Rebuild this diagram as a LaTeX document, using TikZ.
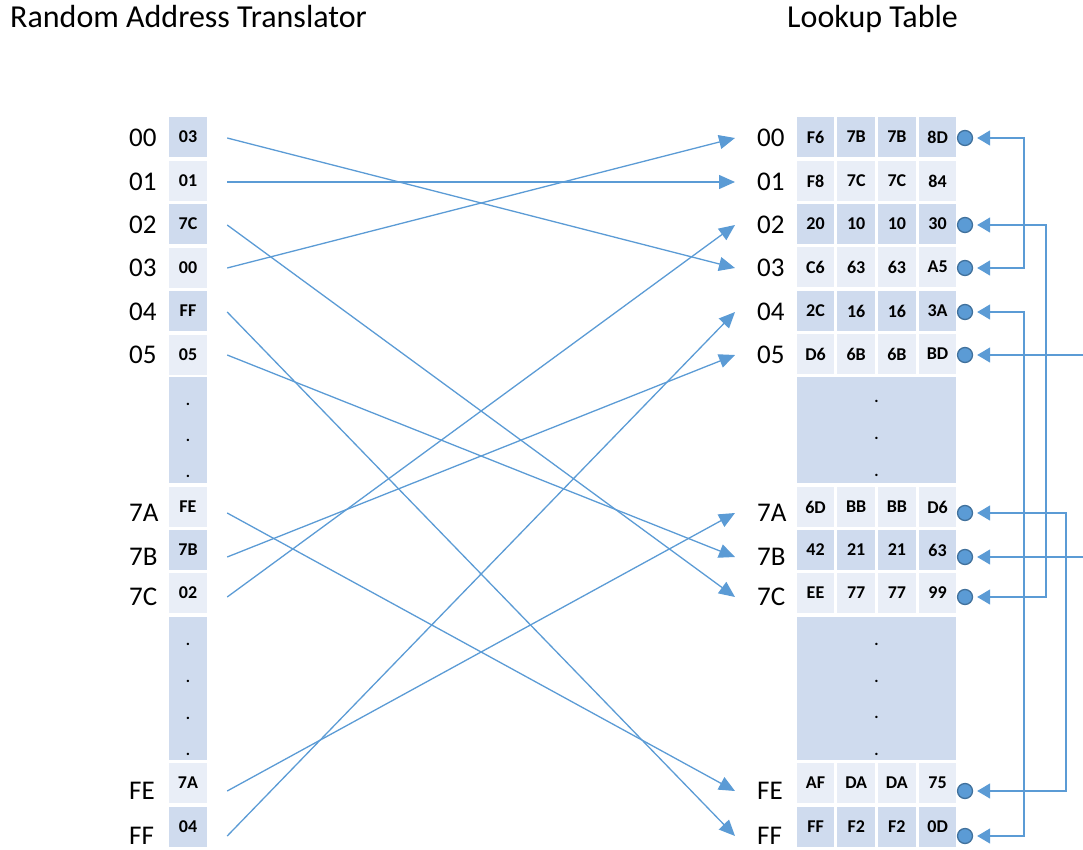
\documentclass[tikz,border=0pt]{standalone}
\usepackage{fontspec}
\setmainfont{Carlito}
\usetikzlibrary{arrows.meta,calc}

\definecolor{cellD}{HTML}{CFDBEE}
\definecolor{cellL}{HTML}{E9EEF7}
\definecolor{lineblue}{HTML}{5B9BD5}
\definecolor{dotrim}{HTML}{41719C}

\tikzset{
  title/.style={font=\fontsize{32}{32}\selectfont, anchor=base west, inner sep=0pt},
  rowlabel/.style={font=\fontsize{27}{27}\selectfont, anchor=west, inner sep=0pt},
  cell/.style={font=\bfseries\fontsize{18}{18}\selectfont, minimum width=38pt,
    minimum height=40pt, inner sep=0pt},
  filler/.style={fill=cellD, inner sep=0pt},
  dotmark/.style={font=\bfseries\fontsize{16}{16}\selectfont, anchor=base, inner sep=0pt},
  port/.style={circle, fill=lineblue, draw=dotrim, line width=1.3pt,
    minimum size=15pt, inner sep=0pt},
  link/.style={draw=lineblue, line width=1.3pt, >={Triangle[length=16pt,width=14pt]}, ->},
  back/.style={draw=lineblue, line width=1.5pt, >={Triangle[length=13pt,width=15pt]},
    shorten <=4pt, shorten >=4pt}
}

\begin{document}
\begin{tikzpicture}[x=1pt, y=-1pt]
  \useasboundingbox (0,0) rectangle (1083,850);

  \node[title] (ttlA) at (10,28) {Random Address Translator};
  \node[title] (ttlB) at (787,28) {Lookup Table};

  % translator column
  \foreach \n/\yc/\yl/\v/\sh in {00/137/138/03/cellD, 01/181/182/01/cellL,
      02/224/225/7C/cellD, 03/268/268/00/cellL, 04/311/312/FF/cellD,
      05/355/355/05/cellL, 7A/507/513/FE/cellL, 7B/550/557/7B/cellD,
      7C/593/597/02/cellL, FE/783/791/7A/cellL, FF/827/836/04/cellD}{
    \node[rowlabel] (ln\n) at (129,\yl) {\n};
    \node[cell, fill=\sh] (l\n) at (188,\yc) {\v};
  }
  \node[filler, minimum width=38pt, minimum height=106pt] (lgap1) at (188,430) {};
  \node[filler, minimum width=38pt, minimum height=143pt] (lgap2) at (188,688.5) {};
  \foreach \y in {403,439,475,643,680,717,753}
    \node[dotmark] at (188,\y+2) {.};

  % lookup table
  \foreach \n/\yc/\yl/\sh/\a/\b/\c/\d in {00/137/138/cellD/F6/7B/7B/8D,
      01/181/182/cellL/F8/7C/7C/84, 02/224/225/cellD/20/10/10/30,
      03/267/268/cellL/C6/63/63/A5, 04/311/312/cellD/2C/16/16/3A,
      05/354/355/cellL/D6/6B/6B/BD, 7A/507/513/cellL/6D/BB/BB/D6,
      7B/550/557/cellD/42/21/21/63, 7C/593/597/cellL/EE/77/77/99,
      FE/783/791/cellL/AF/DA/DA/75, FF/827/836/cellD/FF/F2/F2/0D}{
    \node[rowlabel] (rn\n) at (757,\yl) {\n};
    \node[cell, fill=\sh, minimum width=37.5pt] (r\n-1) at (815.5,\yc) {\a};
    \node[cell, fill=\sh, minimum width=37.5pt] (r\n-2) at (856.2,\yc) {\b};
    \node[cell, fill=\sh, minimum width=37.5pt] (r\n-3) at (896.9,\yc) {\c};
    \node[cell, fill=\sh, minimum width=37.5pt] (r\n-4) at (937.6,\yc) {\d};
  }
  \node[filler, minimum width=159pt, minimum height=106pt] (rgap1) at (876.5,430) {};
  \node[filler, minimum width=159pt, minimum height=143pt] (rgap2) at (876.5,688.5) {};
  \foreach \y in {400,437,474,643,680,716,753}
    \node[dotmark] at (876.5,\y+2) {.};

  % translation links
  \foreach \s/\t in {00/03, 01/01, 02/7C, 03/00, 04/FF, 05/7B,
      7A/FE, 7B/05, 7C/02, FE/7A, FF/04}
    \draw[link] ($(l\s.east |- ln\s)+(20,0)$) -- ($(rn\t.west)+(-22,0)$);

  % ports and feedback
  \foreach \n/\yl in {00/138, 02/225, 03/268, 04/312, 05/355,
      7A/513, 7B/557, 7C/597, FE/791, FF/836}
    \node[port] (c\n) at (965,\yl) {};
  \coordinate (e05) at (1083,355);
  \coordinate (e7B) at (1083,557);

  \draw[back, <->] (c00.east) -- ++(51,0) |- (c03.east);
  \draw[back, <->] (c02.east) -- ++(73,0) |- (c7C.east);
  \draw[back, <->] (c04.east) -- ++(51,0) |- (cFF.east);
  \draw[back, <->] (c7A.east) -- ++(93,0) |- (cFE.east);
  \draw[back, ->, shorten <=0pt] (e05) -- (c05.east);
  \draw[back, ->, shorten <=0pt] (e7B) -- (c7B.east);
\end{tikzpicture}
\end{document}
